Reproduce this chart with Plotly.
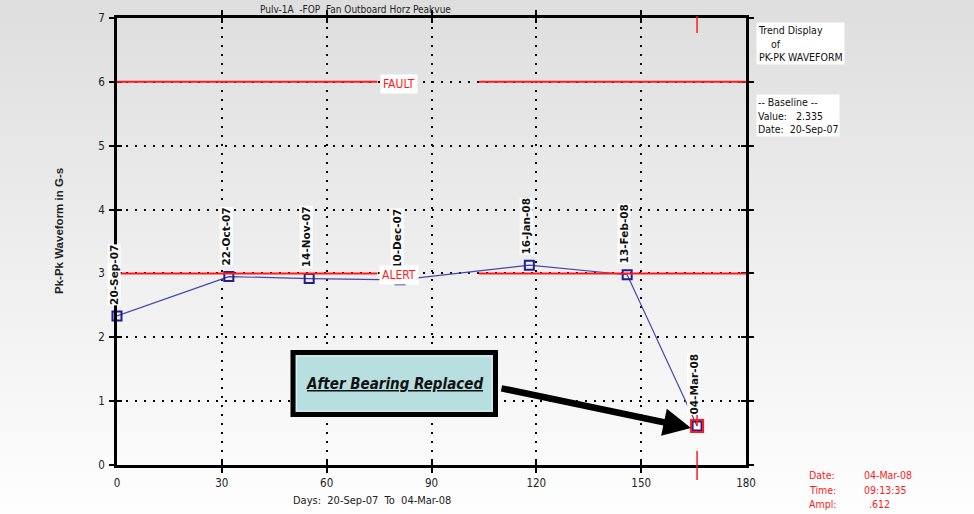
import plotly.graph_objects as go

# ---------------- data ----------------
dates = ["20-Sep-07", "22-Oct-07", "14-Nov-07", "10-Dec-07", "16-Jan-08", "13-Feb-08", "04-Mar-08"]
days = [0, 32, 55, 81, 118, 146, 166]
values = [2.335, 2.95, 2.92, 2.90, 3.13, 2.98, 0.612]

x_ticks = [0, 30, 60, 90, 120, 150, 180]
y_ticks = [0, 1, 2, 3, 4, 5, 6, 7]
thresholds = {"FAULT": 6, "ALERT": 3}

title_text = "Pulv-1A\u00a0\u00a0-FOP\u00a0\u00a0Fan Outboard Horz Peakvue"
y_title = "Pk-Pk Waveform in G-s"
x_title = "Days:\u00a0\u00a020-Sep-07\u00a0\u00a0To\u00a0\u00a004-Mar-08"
right_top = ["Trend Display", "\u00a0\u00a0\u00a0\u00a0of", "PK-PK WAVEFORM"]
right_base = ["-- Baseline --", "Value:\u00a0\u00a0\u00a02.335", "Date:\u00a0\u00a020-Sep-07"]
cursor_labels = ["Date:", "Time:", "Ampl:"]
cursor_values = ["04-Mar-08", "09:13:35", ".612"]
callout = "After Bearing Replaced"

# ---------------- geometry helpers ----------------
W, H = 974, 514
L, R, T, B = 117, 228, 18, 49
PW, PH = W - L - R, H - T - B


def px(xp):
    return (xp - L) / PW


def py(yp):
    return (H - B - yp) / PH


NARROW = "Liberation Sans Narrow, Arial Narrow, DejaVu Sans Condensed, sans-serif"
BOLD = "DejaVu Sans"
BLUE = "#1f1f8f"
LINE_BLUE = "#4646a8"
RED = "#ff1a1a"

fig = go.Figure()

fig.add_trace(go.Scatter(
    x=days, y=values, mode="lines+markers",
    line=dict(color=LINE_BLUE, width=1.2),
    marker=dict(symbol="square-open", size=9, color=BLUE, line=dict(width=2, color=BLUE)),
    showlegend=False, hoverinfo="x+y", cliponaxis=False,
))
# cursor marker on last point
fig.add_trace(go.Scatter(
    x=[days[-1]], y=[values[-1]], mode="markers",
    marker=dict(symbol="square-open", size=12, color=RED, line=dict(width=2, color=RED)),
    showlegend=False, hoverinfo="skip", cliponaxis=False,
))

shapes = []
# background gradient bands
NB = 64
for i in range(NB):
    y0p = H * i / NB
    y1p = H * (i + 1) / NB
    g = int(round(222 + (254 - 222) * (i + 0.5) / NB))
    shapes.append(dict(type="rect", xref="paper", yref="paper",
                       x0=px(-5), x1=px(W + 5), y0=py(y1p + 0.5), y1=py(y0p - 0.5),
                       fillcolor=f"rgb({g},{g},{g})", line=dict(width=0), layer="below"))

# threshold lines with a gap revealing dotted grid
gap_start, gap_end = 74.5, 103.5
for name, val in thresholds.items():
    for xa, xb in [(0, gap_start), (gap_end, 180)]:
        shapes.append(dict(type="line", xref="x", yref="y", x0=xa, x1=xb, y0=val, y1=val,
                           line=dict(color=RED, width=2), layer="above"))

# cursor red ticks (top, bottom, and above the last point)
cx = px(L + days[-1] / 180 * PW)
shapes.append(dict(type="line", xref="paper", yref="paper", x0=cx, x1=cx,
                   y0=py(33), y1=py(16), line=dict(color=RED, width=1.5)))
shapes.append(dict(type="line", xref="paper", yref="paper", x0=cx, x1=cx,
                   y0=py(480), y1=py(451), line=dict(color=RED, width=1.5)))
shapes.append(dict(type="line", xref="x", yref="y", x0=days[-1], x1=days[-1],
                   y0=values[-1], y1=values[-1] + 0.45, line=dict(color=RED, width=1.5)))

# callout box
shapes.append(dict(type="rect", xref="paper", yref="paper",
                   x0=px(293), x1=px(495.5), y0=py(414.5), y1=py(352.5),
                   fillcolor="#b8dfdf", line=dict(color="black", width=5), layer="above"))
shapes.append(dict(type="rect", xref="paper", yref="paper",
                   x0=px(296.5), x1=px(492), y0=py(411), y1=py(356),
                   fillcolor="rgba(0,0,0,0)", line=dict(color="#dff0f0", width=1), layer="above"))

annotations = []
# rotated date labels above points
for d, v, lab in zip(days, values, dates):
    annotations.append(dict(x=d, y=v, xref="x", yref="y", text="<b>" + lab + "</b>", textangle=-90,
                            showarrow=False, xanchor="center", yanchor="bottom",
                            yshift=10, xshift=-3, bgcolor="white", borderpad=0,
                            font=dict(family=BOLD, size=10.5, color="#111111")))

# threshold labels
for name, val in thresholds.items():
    annotations.append(dict(x=(gap_start + 80) / 2 + 3.5, y=val, xref="x", yref="y", text=name,
                            showarrow=False, xanchor="center", yanchor="middle", yshift=-2,
                            bgcolor="white", borderpad=2,
                            font=dict(family=NARROW, size=12, color=RED)))

# title
annotations.append(dict(x=px(355), y=py(10), xref="paper", yref="paper", text=title_text,
                        showarrow=False, xanchor="center", yanchor="middle",
                        font=dict(family=NARROW, size=10, color="#222222")))
# y title
annotations.append(dict(x=px(59), y=py(231), xref="paper", yref="paper", text="<b>" + y_title + "</b>",
                        textangle=-90, showarrow=False, xanchor="center", yanchor="middle",
                        font=dict(family="Liberation Sans, Arial, sans-serif", size=11.5, color="#222222")))
# x title
annotations.append(dict(x=px(372), y=py(501), xref="paper", yref="paper", text=x_title,
                        showarrow=False, xanchor="center", yanchor="middle",
                        font=dict(family=NARROW, size=11, color="#222222")))
# right texts
annotations.append(dict(x=px(756), y=py(22), xref="paper", yref="paper",
                        text="<br>".join(right_top), align="left",
                        showarrow=False, xanchor="left", yanchor="top", bgcolor="white", borderpad=1,
                        font=dict(family=NARROW, size=10.5, color="#111111")))
annotations.append(dict(x=px(756), y=py(94), xref="paper", yref="paper",
                        text="<br>".join(right_base), align="left",
                        showarrow=False, xanchor="left", yanchor="top", bgcolor="white", borderpad=1,
                        font=dict(family=NARROW, size=10.5, color="#111111")))
# cursor readout
for i, (lab, val) in enumerate(zip(cursor_labels, cursor_values)):
    yp = 475 + i * 14.5
    annotations.append(dict(x=px(807), y=py(yp), xref="paper", yref="paper", text=lab,
                            showarrow=False, xanchor="left", yanchor="middle",
                            font=dict(family=NARROW, size=10.5, color=RED)))
    annotations.append(dict(x=px(862 if i < 2 else 867), y=py(yp), xref="paper", yref="paper", text=val,
                            showarrow=False, xanchor="left", yanchor="middle",
                            font=dict(family=NARROW, size=10.5, color=RED)))
# callout text
annotations.append(dict(x=px(394), y=py(384), xref="paper", yref="paper",
                        text="<b><i><u>" + callout + "</u></i></b>",
                        showarrow=False, xanchor="center", yanchor="middle",
                        font=dict(family=NARROW, size=15, color="#111111")))
# callout arrow
annotations.append(dict(x=px(691), y=py(428), xref="paper", yref="paper", text="",
                        showarrow=True, ax=-191, ay=-40, arrowhead=2, arrowsize=0.85,
                        arrowwidth=6.5, arrowcolor="black", standoff=0, startstandoff=0))

fig.update_layout(
    width=W, height=H,
    margin=dict(l=L, r=R, t=T, b=B, pad=0),
    paper_bgcolor="white", plot_bgcolor="rgba(0,0,0,0)",
    shapes=shapes, annotations=annotations,
    showlegend=False,
    xaxis=dict(range=[0, 180], tickvals=x_ticks, ticktext=[str(v) for v in x_ticks],
               showline=True, linecolor="black", linewidth=3, mirror="allticks",
               ticks="inside", ticklen=5, tickwidth=2, tickcolor="black",
               showgrid=True, gridcolor="black", gridwidth=2, griddash="2px,7px",
               zeroline=False, ticklabelstandoff=5,
               tickfont=dict(family=NARROW, size=11.5, color="#222222")),
    yaxis=dict(range=[0, 7], tickvals=y_ticks, ticktext=[str(v) for v in y_ticks],
               showline=True, linecolor="black", linewidth=2.5, mirror="allticks",
               ticks="outside", ticklen=5, tickwidth=2, tickcolor="black",
               showgrid=True, gridcolor="black", gridwidth=2, griddash="2px,7px",
               zeroline=False, ticklabelstandoff=2,
               tickfont=dict(family=NARROW, size=11.5, color="#222222")),
    yaxis2=dict(range=[0, 7], overlaying="y", side="left", tickvals=y_ticks,
                showticklabels=False, showgrid=False, zeroline=False, showline=False,
                mirror="allticks", ticks="inside", ticklen=5, tickwidth=2, tickcolor="black"),
)
# dummy trace to activate yaxis2
fig.add_trace(go.Scatter(x=[None], y=[None], yaxis="y2", showlegend=False, hoverinfo="skip"))

fig.write_html("out.html", config={"displayModeBar": False},
               post_script="document.body.style.margin='0px';document.body.style.overflow='hidden';")
